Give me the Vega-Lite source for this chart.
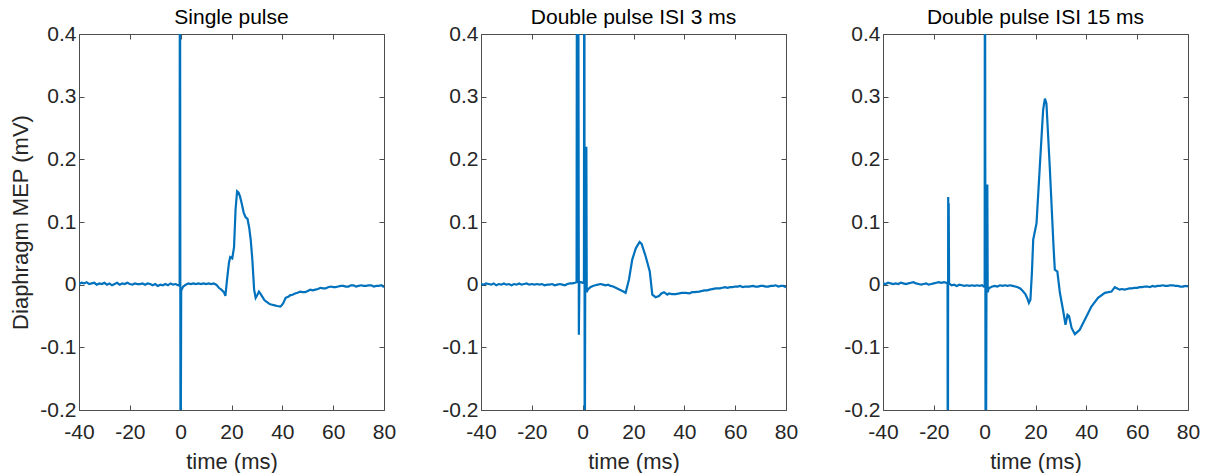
{
  "$schema": "https://vega.github.io/schema/vega-lite/v6.json",
  "background": "white",
  "padding": {"left": 9, "top": 6, "right": 0, "bottom": 0},
  "bounds": "flush",
  "config": {
    "view": {"stroke": "#4d4d4d", "strokeWidth": 1},
    "axis": {"grid": false, "domain": false, "tickColor": "#4d4d4d", "tickSize": -5, "tickWidth": 1,
      "labelFont": "Liberation Sans", "labelFontSize": 21, "labelColor": "#262626",
      "titleFont": "Liberation Sans", "titleFontSize": 22, "titleFontWeight": "normal", "titleColor": "#262626",
      "labelFlush": false, "labelOverlap": false},
    "title": {"font": "Liberation Sans", "fontSize": 21, "fontWeight": "normal", "color": "#000000", "anchor": "middle", "offset": -5, "baseline": "alphabetic"},
    "concat": {"spacing": 97}
  },
  "datasets": {
    "p1": [
      {"t": -40, "v": 0.001}, {"t": -39, "v": 0.003}, {"t": -38, "v": 0.002}, {"t": -37, "v": 0.004}, {"t": -36, "v": 0.001},
      {"t": -35, "v": 0.002}, {"t": -34, "v": 0.003}, {"t": -33, "v": 0.000}, {"t": -32, "v": 0.002}, {"t": -31, "v": 0.001},
      {"t": -30, "v": 0.003}, {"t": -29, "v": 0.000}, {"t": -28, "v": 0.002}, {"t": -27, "v": -0.001}, {"t": -26, "v": 0.001},
      {"t": -25, "v": 0.003}, {"t": -24, "v": 0.000}, {"t": -23, "v": 0.002}, {"t": -22, "v": 0.001}, {"t": -21, "v": 0.003},
      {"t": -20, "v": 0.001}, {"t": -19, "v": 0.000}, {"t": -18, "v": 0.002}, {"t": -17, "v": 0.001}, {"t": -16, "v": 0.001},
      {"t": -15, "v": 0.002}, {"t": -14, "v": 0.000}, {"t": -13, "v": 0.002}, {"t": -12, "v": 0.001}, {"t": -11, "v": -0.001},
      {"t": -10, "v": 0.001}, {"t": -9, "v": -0.002}, {"t": -8, "v": 0.000}, {"t": -7, "v": -0.001}, {"t": -6, "v": 0.001},
      {"t": -5, "v": -0.001}, {"t": -4, "v": 0.002}, {"t": -3, "v": 0.000}, {"t": -2, "v": 0.001}, {"t": -1, "v": -0.001},
      {"t": -0.4, "v": 0.000}, {"t": -0.3, "v": 0.8}, {"t": -0.05, "v": -0.4}, {"t": 0.2, "v": -0.010}, {"t": 0.6, "v": -0.006},
      {"t": 1, "v": -0.003}, {"t": 2, "v": 0.000}, {"t": 3, "v": 0.002}, {"t": 4, "v": 0.001}, {"t": 5, "v": 0.002},
      {"t": 6, "v": 0.001}, {"t": 7, "v": 0.002}, {"t": 8, "v": 0.001}, {"t": 9, "v": 0.002}, {"t": 10, "v": 0.001},
      {"t": 11, "v": 0.002}, {"t": 12, "v": 0.001}, {"t": 13, "v": 0.002}, {"t": 14, "v": 0.000}, {"t": 15, "v": -0.005},
      {"t": 16, "v": -0.008}, {"t": 17, "v": -0.012}, {"t": 17.6, "v": -0.018}, {"t": 18.3, "v": 0.010}, {"t": 19, "v": 0.035},
      {"t": 19.5, "v": 0.044}, {"t": 20.3, "v": 0.042}, {"t": 21, "v": 0.060}, {"t": 21.6, "v": 0.120}, {"t": 22.2, "v": 0.149},
      {"t": 22.8, "v": 0.147}, {"t": 23.4, "v": 0.140}, {"t": 24, "v": 0.130}, {"t": 24.8, "v": 0.115}, {"t": 25.5, "v": 0.108},
      {"t": 26.3, "v": 0.105}, {"t": 27, "v": 0.090}, {"t": 27.6, "v": 0.070}, {"t": 28.2, "v": 0.040}, {"t": 28.9, "v": -0.008},
      {"t": 29.5, "v": -0.021}, {"t": 30.2, "v": -0.016}, {"t": 30.8, "v": -0.011}, {"t": 31.5, "v": -0.015}, {"t": 32.1, "v": -0.019},
      {"t": 33, "v": -0.025}, {"t": 34, "v": -0.028}, {"t": 35, "v": -0.031}, {"t": 36, "v": -0.032}, {"t": 37, "v": -0.033},
      {"t": 38, "v": -0.034}, {"t": 39.3, "v": -0.035}, {"t": 40.3, "v": -0.030}, {"t": 41.3, "v": -0.021}, {"t": 42.5, "v": -0.019},
      {"t": 43, "v": -0.017}, {"t": 44, "v": -0.016}, {"t": 45, "v": -0.014}, {"t": 46, "v": -0.013}, {"t": 47, "v": -0.011},
      {"t": 48, "v": -0.012}, {"t": 49, "v": -0.012}, {"t": 50, "v": -0.010}, {"t": 51, "v": -0.008}, {"t": 52, "v": -0.009},
      {"t": 53, "v": -0.008}, {"t": 54, "v": -0.007}, {"t": 55, "v": -0.005}, {"t": 56, "v": -0.006}, {"t": 57, "v": -0.006},
      {"t": 58, "v": -0.004}, {"t": 59, "v": -0.003}, {"t": 60, "v": -0.004}, {"t": 61, "v": -0.004}, {"t": 62, "v": -0.003},
      {"t": 63, "v": -0.002}, {"t": 64, "v": -0.002}, {"t": 65, "v": -0.003}, {"t": 66, "v": -0.003}, {"t": 67, "v": -0.001},
      {"t": 68, "v": -0.001}, {"t": 69, "v": -0.003}, {"t": 70, "v": -0.002}, {"t": 71, "v": -0.001}, {"t": 72, "v": -0.002},
      {"t": 73, "v": -0.002}, {"t": 74, "v": -0.001}, {"t": 75, "v": -0.001}, {"t": 76, "v": -0.003}, {"t": 77, "v": -0.002},
      {"t": 78, "v": -0.002}, {"t": 79, "v": -0.001}, {"t": 80, "v": -0.004}
    ],
    "p2": [
      {"t": -40, "v": 0.001}, {"t": -39, "v": 0.000}, {"t": -38, "v": 0.002}, {"t": -37, "v": 0.001}, {"t": -36, "v": 0.000},
      {"t": -35, "v": 0.002}, {"t": -34, "v": -0.001}, {"t": -33, "v": 0.001}, {"t": -32, "v": 0.000}, {"t": -31, "v": 0.002},
      {"t": -30, "v": 0.000}, {"t": -29, "v": 0.001}, {"t": -28, "v": -0.001}, {"t": -27, "v": 0.001}, {"t": -26, "v": 0.000},
      {"t": -25, "v": 0.002}, {"t": -24, "v": 0.000}, {"t": -23, "v": 0.001}, {"t": -22, "v": 0.002}, {"t": -21, "v": 0.000},
      {"t": -20, "v": 0.001}, {"t": -19, "v": 0.000}, {"t": -18, "v": 0.001}, {"t": -17, "v": 0.000}, {"t": -16, "v": 0.001},
      {"t": -15, "v": -0.001}, {"t": -14, "v": 0.000}, {"t": -13, "v": 0.000}, {"t": -12, "v": 0.001}, {"t": -11, "v": -0.001},
      {"t": -10, "v": 0.000}, {"t": -9, "v": 0.001}, {"t": -8, "v": 0.000}, {"t": -7, "v": -0.001}, {"t": -6, "v": 0.001},
      {"t": -5, "v": 0.002}, {"t": -4, "v": 0.002}, {"t": -3, "v": 0.003}, {"t": -2.4, "v": 0.004}, {"t": -2.2, "v": 0.8},
      {"t": -1.8, "v": 0.8}, {"t": -1.5, "v": -0.08}, {"t": -1.3, "v": 0.005}, {"t": -0.5, "v": 0.004}, {"t": 0, "v": 0.003},
      {"t": 0.5, "v": 0.003}, {"t": 0.65, "v": 0.8}, {"t": 0.8, "v": -0.4}, {"t": 1.0, "v": -0.012}, {"t": 1.45, "v": 0.22},
      {"t": 1.6, "v": -0.012}, {"t": 2, "v": -0.008}, {"t": 3, "v": -0.004}, {"t": 4, "v": -0.002}, {"t": 5, "v": -0.001},
      {"t": 6, "v": 0.000}, {"t": 7, "v": 0.001}, {"t": 8, "v": 0.000}, {"t": 9, "v": -0.001}, {"t": 10, "v": 0.000},
      {"t": 11, "v": -0.002}, {"t": 12, "v": -0.003}, {"t": 13, "v": -0.005}, {"t": 14, "v": -0.007}, {"t": 15, "v": -0.009},
      {"t": 16, "v": -0.011}, {"t": 16.9, "v": -0.013}, {"t": 18.2, "v": 0.008}, {"t": 19.5, "v": 0.040}, {"t": 20.9, "v": 0.058},
      {"t": 22.4, "v": 0.068}, {"t": 23.2, "v": 0.065}, {"t": 24.8, "v": 0.045}, {"t": 26.4, "v": 0.021}, {"t": 27.4, "v": -0.016},
      {"t": 28.7, "v": -0.020}, {"t": 30, "v": -0.018}, {"t": 31, "v": -0.014}, {"t": 32, "v": -0.012}, {"t": 33.3, "v": -0.016},
      {"t": 34, "v": -0.014}, {"t": 35, "v": -0.015}, {"t": 36.6, "v": -0.015}, {"t": 38, "v": -0.014}, {"t": 39, "v": -0.013},
      {"t": 40.6, "v": -0.013}, {"t": 42, "v": -0.014}, {"t": 43, "v": -0.012}, {"t": 44, "v": -0.012}, {"t": 45.8, "v": -0.011},
      {"t": 47, "v": -0.010}, {"t": 48, "v": -0.009}, {"t": 49, "v": -0.009}, {"t": 50, "v": -0.008}, {"t": 51, "v": -0.007},
      {"t": 52.4, "v": -0.006}, {"t": 54, "v": -0.006}, {"t": 55, "v": -0.005}, {"t": 56, "v": -0.004}, {"t": 57, "v": -0.005},
      {"t": 58, "v": -0.004}, {"t": 59, "v": -0.004}, {"t": 60, "v": -0.003}, {"t": 61, "v": -0.003}, {"t": 62, "v": -0.002},
      {"t": 63, "v": -0.004}, {"t": 64, "v": -0.003}, {"t": 65.5, "v": -0.003}, {"t": 67, "v": -0.002}, {"t": 68, "v": -0.003},
      {"t": 69, "v": -0.003}, {"t": 70, "v": -0.002}, {"t": 71, "v": -0.002}, {"t": 72, "v": -0.003}, {"t": 73, "v": -0.003},
      {"t": 74, "v": -0.002}, {"t": 75, "v": -0.002}, {"t": 76, "v": -0.001}, {"t": 77, "v": -0.003}, {"t": 78, "v": -0.002},
      {"t": 79, "v": -0.002}, {"t": 80, "v": -0.004}
    ],
    "p3": [
      {"t": -40, "v": 0.002}, {"t": -39, "v": 0.001}, {"t": -38, "v": 0.003}, {"t": -37, "v": 0.002}, {"t": -36, "v": 0.001},
      {"t": -35, "v": 0.002}, {"t": -34, "v": 0.001}, {"t": -33, "v": 0.003}, {"t": -32, "v": 0.002}, {"t": -31, "v": 0.001},
      {"t": -30, "v": 0.002}, {"t": -29, "v": 0.003}, {"t": -28, "v": 0.004}, {"t": -27, "v": 0.002}, {"t": -26, "v": 0.001},
      {"t": -25, "v": 0.000}, {"t": -24, "v": 0.001}, {"t": -23, "v": 0.002}, {"t": -22, "v": 0.000}, {"t": -21, "v": 0.001},
      {"t": -20, "v": 0.002}, {"t": -19, "v": 0.003}, {"t": -18, "v": 0.004}, {"t": -17, "v": 0.003}, {"t": -16, "v": 0.004},
      {"t": -15, "v": 0.003}, {"t": -14.6, "v": 0.003}, {"t": -14.5, "v": -0.5}, {"t": -14.35, "v": 0.14}, {"t": -14.25, "v": 0.0},
      {"t": -14.15, "v": 0.13}, {"t": -14.0, "v": 0.002},
      {"t": -13, "v": -0.001}, {"t": -12, "v": 0.000}, {"t": -11, "v": -0.002}, {"t": -10, "v": 0.000}, {"t": -9, "v": -0.001},
      {"t": -8, "v": -0.002}, {"t": -7, "v": -0.001}, {"t": -6, "v": -0.002}, {"t": -5, "v": -0.001}, {"t": -4, "v": -0.002},
      {"t": -3, "v": -0.001}, {"t": -2, "v": -0.002}, {"t": -1, "v": -0.001}, {"t": -0.3, "v": -0.003}, {"t": 0, "v": -0.003},
      {"t": 0.1, "v": 0.8}, {"t": 0.4, "v": -0.5}, {"t": 0.7, "v": -0.012}, {"t": 1.05, "v": 0.16}, {"t": 1.2, "v": -0.012},
      {"t": 1.6, "v": -0.006}, {"t": 2, "v": -0.005}, {"t": 3, "v": -0.003}, {"t": 4, "v": -0.002}, {"t": 5, "v": -0.003},
      {"t": 6, "v": -0.001}, {"t": 7, "v": -0.002}, {"t": 8, "v": -0.001}, {"t": 9, "v": -0.002}, {"t": 10, "v": -0.001},
      {"t": 11, "v": -0.002}, {"t": 12, "v": -0.003}, {"t": 13, "v": -0.004}, {"t": 14, "v": -0.006}, {"t": 15, "v": -0.010},
      {"t": 16, "v": -0.015}, {"t": 16.8, "v": -0.022}, {"t": 17.4, "v": -0.029}, {"t": 18, "v": -0.024}, {"t": 18.6, "v": 0.020},
      {"t": 19.1, "v": 0.072}, {"t": 20.4, "v": 0.098}, {"t": 21.7, "v": 0.189}, {"t": 23, "v": 0.279}, {"t": 23.7, "v": 0.297},
      {"t": 24.3, "v": 0.289}, {"t": 25.6, "v": 0.189}, {"t": 27.1, "v": 0.060}, {"t": 27.6, "v": 0.024}, {"t": 28.6, "v": 0.021},
      {"t": 29.6, "v": -0.013}, {"t": 30.9, "v": -0.042}, {"t": 31.8, "v": -0.064}, {"t": 32.6, "v": -0.048}, {"t": 33.2, "v": -0.050},
      {"t": 34.2, "v": -0.069}, {"t": 35.5, "v": -0.079}, {"t": 37.4, "v": -0.072}, {"t": 39.4, "v": -0.056}, {"t": 42, "v": -0.035},
      {"t": 44.6, "v": -0.021}, {"t": 47.3, "v": -0.013}, {"t": 49.9, "v": -0.011}, {"t": 51.2, "v": -0.004}, {"t": 53.1, "v": -0.008},
      {"t": 54, "v": -0.007}, {"t": 55, "v": -0.008}, {"t": 56, "v": -0.007}, {"t": 57, "v": -0.006}, {"t": 58, "v": -0.006},
      {"t": 59, "v": -0.005}, {"t": 60, "v": -0.005}, {"t": 61, "v": -0.004}, {"t": 62, "v": -0.004}, {"t": 63, "v": -0.003},
      {"t": 64, "v": -0.003}, {"t": 65, "v": -0.004}, {"t": 66, "v": -0.002}, {"t": 67, "v": -0.003}, {"t": 68, "v": -0.002},
      {"t": 69, "v": -0.002}, {"t": 70, "v": -0.001}, {"t": 71, "v": -0.002}, {"t": 72, "v": -0.002}, {"t": 73, "v": -0.001},
      {"t": 74, "v": -0.001}, {"t": 75, "v": -0.002}, {"t": 76, "v": -0.002}, {"t": 77, "v": -0.003}, {"t": 78, "v": -0.003},
      {"t": 79, "v": -0.002}, {"t": 80, "v": -0.003}
    ]
  },
  "hconcat": [
    {
      "width": 305, "height": 376,
      "title": {"text": "Single pulse"},
      "data": {"name": "p1"},
      "layer": [
        {"mark": {"type": "line", "color": "#0072BD", "strokeWidth": 2.2, "clip": true},
         "encoding": {
           "x": {"field": "t", "type": "quantitative", "scale": {"domain": [-40, 80], "nice": false},
             "axis": {"orient": "bottom", "title": "time (ms)", "values": [-40, -20, 0, 20, 40, 60, 80], "labelPadding": 16, "titlePadding": 9,
               "labelExpr": "replace(format(datum.value, 'd'), '\u2212', '-')"}},
           "y": {"field": "v", "type": "quantitative", "scale": {"domain": [-0.2, 0.4], "nice": false, "zero": false},
             "axis": {"orient": "left", "title": "Diaphragm MEP (mV)", "values": [-0.2, -0.1, 0, 0.1, 0.2, 0.3, 0.4], "labelPadding": 8, "titlePadding": 7,
               "labelExpr": "replace(format(datum.value, '.1~f'), '\u2212', '-')"}}
         }},
        {"mark": {"type": "line", "opacity": 0, "clip": true},
         "encoding": {
           "x": {"field": "t", "type": "quantitative", "scale": {"domain": [-40, 80], "nice": false},
             "axis": {"orient": "top", "title": null, "labels": false, "values": [-40, -20, 0, 20, 40, 60, 80]}},
           "y": {"field": "v", "type": "quantitative", "scale": {"domain": [-0.2, 0.4], "nice": false, "zero": false},
             "axis": {"orient": "right", "title": null, "labels": false, "values": [-0.2, -0.1, 0, 0.1, 0.2, 0.3, 0.4]}}
         }}
      ],
      "resolve": {"axis": {"x": "independent", "y": "independent"}}
    },
    {
      "width": 305, "height": 376,
      "title": {"text": "Double pulse ISI 3 ms"},
      "data": {"name": "p2"},
      "layer": [
        {"mark": {"type": "line", "color": "#0072BD", "strokeWidth": 2.2, "clip": true},
         "encoding": {
           "x": {"field": "t", "type": "quantitative", "scale": {"domain": [-40, 80], "nice": false},
             "axis": {"orient": "bottom", "title": "time (ms)", "values": [-40, -20, 0, 20, 40, 60, 80], "labelPadding": 16, "titlePadding": 9,
               "labelExpr": "replace(format(datum.value, 'd'), '\u2212', '-')"}},
           "y": {"field": "v", "type": "quantitative", "scale": {"domain": [-0.2, 0.4], "nice": false, "zero": false},
             "axis": {"orient": "left", "title": null, "values": [-0.2, -0.1, 0, 0.1, 0.2, 0.3, 0.4], "labelPadding": 8,
               "labelExpr": "replace(format(datum.value, '.1~f'), '\u2212', '-')"}}
         }},
        {"mark": {"type": "line", "opacity": 0, "clip": true},
         "encoding": {
           "x": {"field": "t", "type": "quantitative", "scale": {"domain": [-40, 80], "nice": false},
             "axis": {"orient": "top", "title": null, "labels": false, "values": [-40, -20, 0, 20, 40, 60, 80]}},
           "y": {"field": "v", "type": "quantitative", "scale": {"domain": [-0.2, 0.4], "nice": false, "zero": false},
             "axis": {"orient": "right", "title": null, "labels": false, "values": [-0.2, -0.1, 0, 0.1, 0.2, 0.3, 0.4]}}
         }}
      ],
      "resolve": {"axis": {"x": "independent", "y": "independent"}}
    },
    {
      "width": 305, "height": 376,
      "title": {"text": "Double pulse ISI 15 ms"},
      "data": {"name": "p3"},
      "layer": [
        {"mark": {"type": "line", "color": "#0072BD", "strokeWidth": 2.2, "clip": true},
         "encoding": {
           "x": {"field": "t", "type": "quantitative", "scale": {"domain": [-40, 80], "nice": false},
             "axis": {"orient": "bottom", "title": "time (ms)", "values": [-40, -20, 0, 20, 40, 60, 80], "labelPadding": 16, "titlePadding": 9,
               "labelExpr": "replace(format(datum.value, 'd'), '\u2212', '-')"}},
           "y": {"field": "v", "type": "quantitative", "scale": {"domain": [-0.2, 0.4], "nice": false, "zero": false},
             "axis": {"orient": "left", "title": null, "values": [-0.2, -0.1, 0, 0.1, 0.2, 0.3, 0.4], "labelPadding": 8,
               "labelExpr": "replace(format(datum.value, '.1~f'), '\u2212', '-')"}}
         }},
        {"mark": {"type": "line", "opacity": 0, "clip": true},
         "encoding": {
           "x": {"field": "t", "type": "quantitative", "scale": {"domain": [-40, 80], "nice": false},
             "axis": {"orient": "top", "title": null, "labels": false, "values": [-40, -20, 0, 20, 40, 60, 80]}},
           "y": {"field": "v", "type": "quantitative", "scale": {"domain": [-0.2, 0.4], "nice": false, "zero": false},
             "axis": {"orient": "right", "title": null, "labels": false, "values": [-0.2, -0.1, 0, 0.1, 0.2, 0.3, 0.4]}}
         }}
      ],
      "resolve": {"axis": {"x": "independent", "y": "independent"}}
    }
  ]
}
